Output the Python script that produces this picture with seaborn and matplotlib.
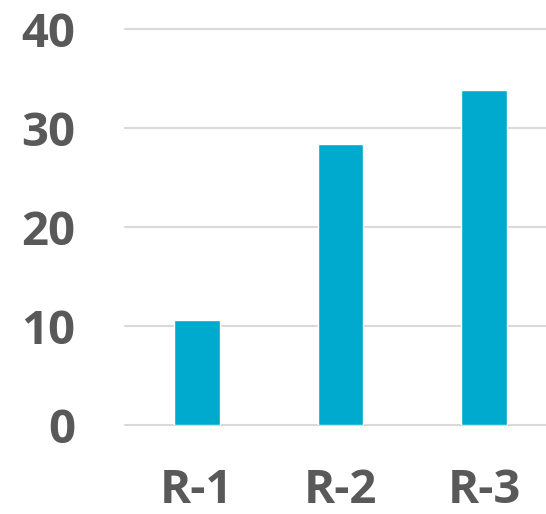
import matplotlib
matplotlib.use("Agg")
import matplotlib.pyplot as plt
import seaborn as sns
import pandas as pd

categories = ["R-1", "R-2", "R-3"]
values = [10.6, 28.4, 33.9]
y_ticks = [0, 10, 20, 30, 40]

df = pd.DataFrame({"cat": categories, "val": values})

sns.set_theme(style="white")
plt.rcParams["font.family"] = ["Open Sans", "DejaVu Sans"]

fig = plt.figure(figsize=(5.46, 5.14), dpi=100)
ax = fig.add_axes([125 / 546, 89 / 514, 1 - 125 / 546, 395.5 / 514])

sns.barplot(data=df, x="cat", y="val", color="#00AACF", saturation=1,
            width=0.32, ax=ax, zorder=3)

ax.set_ylim(0, 40)
ax.set_xlim(-0.5, (546 - 196) / 144)
ax.set_yticks(y_ticks)
ax.set_yticklabels([str(t) for t in y_ticks])
ax.grid(axis="y", color="#D9D9D9", linewidth=1.5, zorder=0)
ax.grid(axis="x", visible=False)
for gl in ax.yaxis.get_gridlines():
    gl.set_clip_on(False)
for s in ax.spines.values():
    s.set_visible(False)
ax.set_xlabel("")
ax.set_ylabel("")
ax.tick_params(axis="y", length=0, pad=36, labelsize=34, labelcolor="#595959")
ax.tick_params(axis="x", length=0, pad=30, labelsize=34, labelcolor="#595959")
for lbl in ax.get_xticklabels() + ax.get_yticklabels():
    lbl.set_fontweight("bold")

fig.savefig("out.png", dpi=100)
